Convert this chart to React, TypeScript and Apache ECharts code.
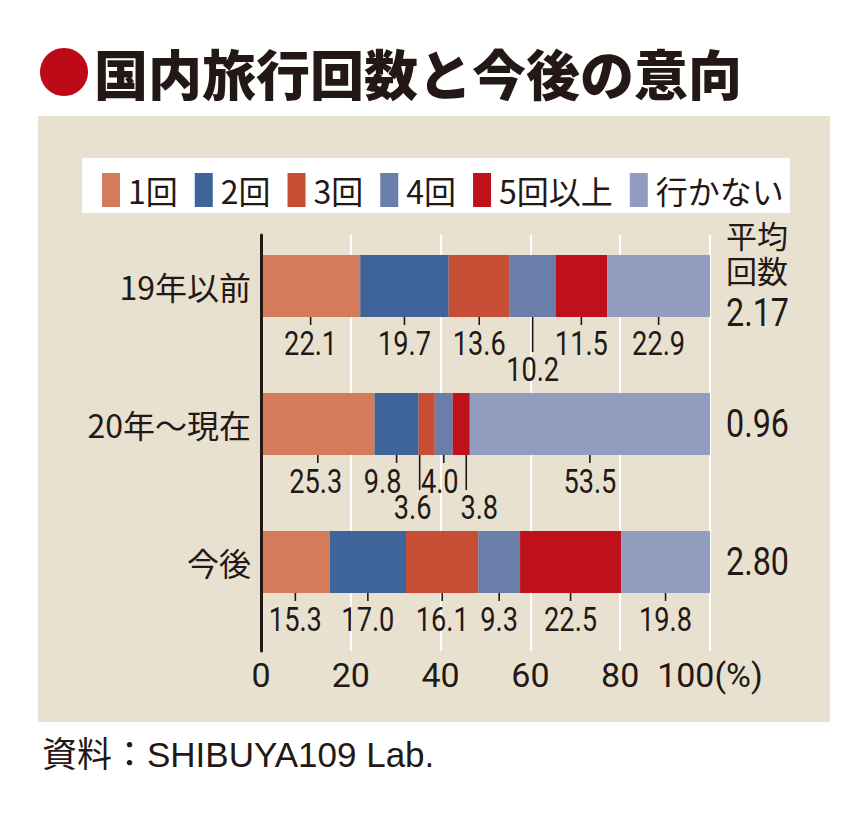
import React, { useEffect, useRef } from 'react';
import * as echarts from 'echarts';

const categories = ['19年以前', '20年〜現在', '今後'];
const seriesNames = ['1回', '2回', '3回', '4回', '5回以上', '行かない'];
const once = [22.1, 25.3, 15.3];
const twice = [19.7, 9.8, 17.0];
const threeTimes = [13.6, 3.6, 16.1];
const fourTimes = [10.2, 4.0, 9.3];
const fiveOrMore = [11.5, 3.8, 22.5];
const notGoing = [22.9, 53.5, 19.8];
const averages = ['2.17', '0.96', '2.80'];
const xTicks = [0, 20, 40, 60, 80, 100];

const seriesValues = [once, twice, threeTimes, fourTimes, fiveOrMore, notGoing];
const colors = ['#d47b5c', '#3e6499', '#c64e34', '#6a7eaa', '#be111c', '#929cbf'];

// layout-only: labels placed on a lower line, and small horizontal shifts of leader lines / labels
const lowered: Record<string, boolean> = { '0-3': true, '1-2': true, '1-4': true };
const lineShift: Record<string, number> = { '1-2': -7, '1-4': 5 };
const labelShift: Record<string, number> = { '1-0': -2, '1-1': -14, '1-2': -14, '1-3': -4, '1-4': 18 };

const INK = '#231815';
const JP = '"Noto Sans CJK JP", "Noto Sans", sans-serif';
const NUM = 'Roboto, "Liberation Sans", sans-serif';
const BAR = 62;

export default function App() {
  const ref = useRef<HTMLDivElement>(null);
  useEffect(() => {
    if (!ref.current) return;
    const chart = echarts.init(ref.current, null, { renderer: 'svg' });

    const labelData: number[][] = [];
    for (let r = 0; r < categories.length; r++) {
      let cum = 0;
      for (let s = 0; s < seriesValues.length; s++) {
        const v = seriesValues[s][r];
        labelData.push([cum + v / 2, r, v, s]);
        cum += v;
      }
    }
    const avgData = averages.map((a, r) => [100, r, r]);

    const option: any = {
      animation: false,
      backgroundColor: '#ffffff',
      graphic: [
        { type: 'circle', shape: { cx: 64, cy: 72, r: 24 }, style: { fill: '#be0a18' } },
        {
          type: 'text', x: 94, y: 72,
          style: { text: '国内旅行回数と今後の意向', fontSize: 54, fontWeight: 900, fontFamily: JP, fill: INK, textVerticalAlign: 'middle' },
        },
        { type: 'rect', z: -10, shape: { x: 38, y: 116, width: 792, height: 606 }, style: { fill: '#e8e1d0' } },
        { type: 'rect', z: -5, shape: { x: 82, y: 158, width: 708, height: 55 }, style: { fill: '#ffffff' } },
        {
          type: 'text', x: 42, y: 754,
          style: { text: '資料：SHIBUYA109 Lab.', fontSize: 35, fontFamily: '"Liberation Sans", "Noto Sans CJK JP", sans-serif', fill: INK, textVerticalAlign: 'middle' },
        },
      ],
      legend: {
        left: 97, top: 168, icon: 'rect', itemWidth: 18, itemHeight: 34, itemGap: 17,
        textStyle: { fontSize: 32, fontFamily: JP, color: INK, padding: [0, 0, 0, 3] },
        data: seriesNames,
      },
      grid: [
        { left: 261, right: 158, top: 217, height: 414 },
        { left: 261, right: 158, top: 235, height: 416 },
      ],
      xAxis: [
        { gridIndex: 0, type: 'value', min: 0, max: 100, show: false },
        {
          gridIndex: 1, type: 'value', min: 0, max: 100, interval: 20,
          axisLine: { show: false }, axisTick: { show: false },
          splitLine: { show: true, lineStyle: { color: '#ffffff', width: 2 } },
          axisLabel: {
            fontSize: 34, fontFamily: NUM, color: INK, margin: 7,
            formatter: (v: number) => (xTicks.includes(v) ? (v === 100 ? '100(%)' : String(v)) : ''),
          },
        },
      ],
      yAxis: [
        {
          gridIndex: 0, type: 'category', data: categories, inverse: true,
          axisLine: { show: false }, axisTick: { show: false }, splitLine: { show: false },
          axisLabel: { fontSize: 32, fontFamily: JP, color: INK, margin: 10 },
        },
        {
          gridIndex: 1, type: 'value', min: 0, max: 1, z: 5,
          axisLine: { show: true, lineStyle: { color: INK, width: 3 } },
          axisTick: { show: false }, axisLabel: { show: false }, splitLine: { show: false },
        },
      ],
      series: [
        ...seriesNames.map((name, s) => ({
          name, type: 'bar', stack: 'total', xAxisIndex: 0, yAxisIndex: 0,
          barWidth: BAR, itemStyle: { color: colors[s] },
          data: seriesValues[s],
        })),
        {
          type: 'custom', xAxisIndex: 0, yAxisIndex: 0, z: 4,
          data: labelData,
          renderItem: (params: any, api: any) => {
            const r = api.value(1);
            const s = api.value(3);
            const key = `${r}-${s}`;
            const p = api.coord([api.value(0), r]);
            const bottom = p[1] + BAR / 2;
            const low = !!lowered[key];
            const lx = p[0] + (lineShift[key] || 0);
            const lineEnd = bottom + (low ? 35 : 8);
            const labelY = low ? bottom + 52 : bottom + 26;
            return {
              type: 'group',
              children: [
                { type: 'line', shape: { x1: lx, y1: bottom, x2: lx, y2: lineEnd }, style: { stroke: INK, lineWidth: 1.6 } },
                {
                  type: 'text', x: p[0] + (labelShift[key] || 0), y: labelY, scaleX: 0.8,
                  style: { text: api.value(2).toFixed(1), textAlign: 'center', textVerticalAlign: 'middle', fontSize: 34, lineHeight: 30, fontFamily: NUM, fill: INK },
                },
              ],
            };
          },
        },
        {
          type: 'custom', xAxisIndex: 0, yAxisIndex: 0, z: 4,
          data: avgData,
          renderItem: (params: any, api: any) => {
            const r = api.value(2);
            const p = api.coord([100, api.value(1)]);
            const x = p[0] + 16;
            const children: any[] = [];
            if (r === 0) {
              children.push({ type: 'text', x, y: p[1] - 34, style: { text: '平均\n回数', fontSize: 31, lineHeight: 35, fontFamily: JP, fill: INK, textVerticalAlign: 'middle' } });
            }
            children.push({
              type: 'text', x, y: p[1] + (r === 0 ? 27 : 0), scaleX: 0.85,
              style: { text: averages[r], fontSize: 38, lineHeight: 34, fontFamily: NUM, fill: INK, textVerticalAlign: 'middle' },
            });
            return { type: 'group', children };
          },
        },
      ],
    };
    chart.setOption(option);
    return () => chart.dispose();
  }, []);
  return <div ref={ref} style={{ position: 'fixed', left: 0, top: 0, width: 868, height: 813 }} />;
}
